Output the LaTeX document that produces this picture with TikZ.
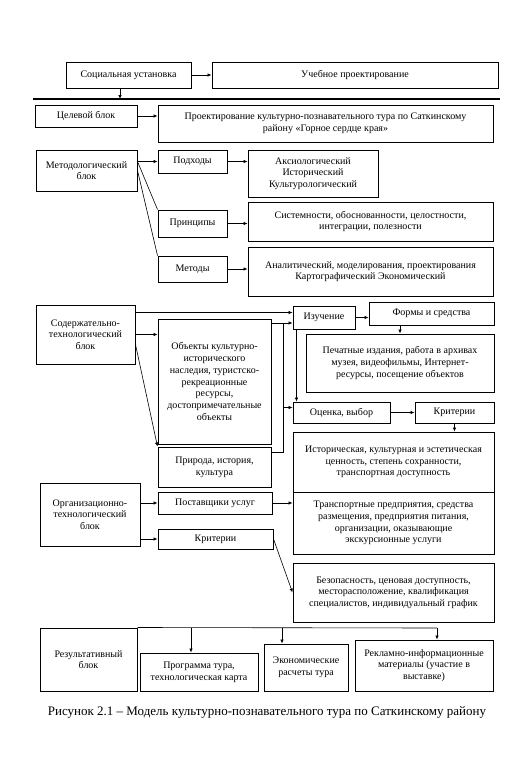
\documentclass[tikz,border=0pt]{standalone}
\usepackage{fontspec}
\setmainfont{Liberation Serif}
\usetikzlibrary{arrows.meta}

\begin{document}
\begin{tikzpicture}[x=1pt, y=-1pt]
    % Define styles
    \tikzstyle{block} = [draw, line width=1pt, align=center, inner sep=1pt, font=\fontsize{10}{11.7}\selectfont]
    \tikzstyle{edge} = [-{Latex[length=4pt,width=3.5pt]}, line width=0.6pt]
    \tikzstyle{link} = [line width=0.6pt]
    \tikzstyle{rule} = [line width=1.5pt]

    \useasboundingbox (0,0) rectangle (515,763);

    % Top part
    \node[block, minimum width=125pt, minimum height=26pt] (soc) at (128.5,75) {Социальная установка};
    \node[block, minimum width=286pt, minimum height=26pt] (ucheb) at (355,75) {Учебное проектирование};
    \coordinate (ruleL) at (33,99);
    \coordinate (ruleR) at (500,99);

    % Target block
    \node[block, minimum width=102pt, minimum height=22pt] (cel) at (86,116) {Целевой блок};
    \node[block, minimum width=335pt, minimum height=37pt] (proekt) at (325.5,123.5) {Проектирование культурно-познавательного тура по Саткинскому\\району «Горное сердце края»};

    % Methodological block
    \node[block, minimum width=101pt, minimum height=41pt] (metod) at (86.5,170.5) {Методологический\\блок};
    \node[block, minimum width=69pt, minimum height=23pt] (podh) at (192.5,161.5) {Подходы};
    \node[block, minimum width=130pt, minimum height=47pt] (aks) at (313,173.5) {Аксиологический\\Исторический\\Культурологический};
    \node[block, minimum width=69pt, minimum height=27pt] (princ) at (192.5,223.5) {Принципы};
    \node[block, minimum width=245pt, minimum height=39pt] (sist) at (370.5,221.5) {Системности, обоснованности, целостности,\\интеграции, полезности};
    \node[block, minimum width=69pt, minimum height=26pt] (metody) at (192.5,269) {Методы};
    \node[block, minimum width=245pt, minimum height=49pt] (anal) at (370.5,271.5) {Аналитический, моделирования, проектирования\\Картографический Экономический};

    % Content and technology block
    \node[block, minimum width=99pt, minimum height=59pt] (sod) at (85.5,334.5) {Содержательно-\\технологический\\блок};
    \node[block, minimum width=113pt, minimum height=125pt] (obj) at (214.5,381.5) {Объекты культурно-\\исторического\\наследия, туристско-\\рекреационные\\ресурсы,\\достопримечательные\\объекты};
    \node[block, minimum width=113pt, minimum height=40pt] (prir) at (214.5,467) {Природа, история,\\культура};
    \node[block, minimum width=62pt, minimum height=23pt] (izuch) at (324,317.5) {Изучение};
    \node[block, minimum width=125pt, minimum height=23pt] (formy) at (431.5,313.5) {Формы и средства};
    \node[block, minimum width=188pt, minimum height=58pt] (pech) at (400,363) {Печатные издания, работа в архивах\\музея, видеофильмы, Интернет-\\ресурсы, посещение объектов};
    \node[block, minimum width=97pt, minimum height=21pt] (ocen) at (341.5,412.5) {Оценка, выбор};
    \node[block, minimum width=79pt, minimum height=21pt] (krit1) at (454.5,412.5) {Критерии};
    \node[block, minimum width=201pt, minimum height=60pt] (ist) at (393.5,462) {Историческая, культурная и эстетическая\\ценность, степень сохранности,\\транспортная доступность};

    % Organizational and technology block
    \node[block, minimum width=201pt, minimum height=62pt] (trans) at (393.5,523) {Транспортные предприятия, средства\\размещения, предприятия питания,\\организации, оказывающие\\экскурсионные услуги};
    \node[block, minimum width=100pt, minimum height=63pt] (org) at (90,514.5) {Организационно-\\технологический\\блок};
    \node[block, minimum width=114pt, minimum height=22pt] (post) at (215,503) {Поставщики услуг};
    \node[block, minimum width=115pt, minimum height=20pt] (krit2) at (215.5,539) {Критерии};
    \node[block, minimum width=201pt, minimum height=59pt] (bez) at (393.5,592.5) {Безопасность, ценовая доступность,\\месторасположение, квалификация\\специалистов, индивидуальный график};

    % Result block
    \node[block, minimum width=97pt, minimum height=63pt] (rez) at (88.5,659.5) {Результативный\\блок};
    \node[block, minimum width=118pt, minimum height=38pt] (prog) at (199,672) {Программа тура,\\технологическая карта};
    \node[block, minimum width=84pt, minimum height=47pt] (econ) at (306,667.5) {Экономические\\расчеты тура};
    \node[block, minimum width=138pt, minimum height=51pt] (rekl) at (424,665.5) {Рекламно-информационные\\материалы (участие в\\выставке)};

    % Caption
    \node[font=\fontsize{13}{15}\selectfont] (cap) at (267,712) {Рисунок 2.1 – Модель культурно-познавательного тура по Саткинскому району};

    % Helper points
    \path ([yshift=5pt]izuch.west) coordinate (izA);
    \path ([yshift=-5.5pt]izuch.west) coordinate (izB);
    \path ([xshift=4pt]izuch.south west) coordinate (izC);
    \path ([yshift=5pt]ocen.west) coordinate (ocA);
    \path ([yshift=15pt]prir.east) coordinate (prA);
    \coordinate (bus) at (283,0);
    \coordinate (dProg) at (191,628);
    \coordinate (dEcon) at (282,628);
    \coordinate (dRekl) at (437,628);

    % Top connectors
    \draw[edge] (soc) -- (ucheb);
    \draw[rule] (ruleL) -- (ruleR);
    \draw[edge] ([xshift=-8.5pt]soc.south) -- (ruleL -| 120,0);
    \draw[edge] (cel.east) -- (cel.east -| proekt.west);

    % Methodological connectors
    \draw[edge] (metod.east |- podh) -- (podh);
    \draw[link] (metod.east |- podh) -- (princ.north west);
    \draw[link] (metod.east) -- (metody.north west);
    \draw[edge] (podh) -- (podh -| aks.west);
    \draw[edge] (princ) -- (princ -| sist.west);
    \draw[edge] (metody) -- (metody -| anal.west);

    % Content connectors
    \draw[edge] (izA -| sod.east) -- (izA);
    \draw[edge] (sod.east) -- (sod.east -| obj.west);
    \draw[edge] ([yshift=-10pt]sod.east) -- (prir.north west);
    \draw[edge] (izB -| obj.east) -- (izB);
    \draw[link] (prA) -| (bus |- izB);
    \draw[edge] (bus |- ocA) -- (ocA);
    \draw[edge] (izuch.east) -- (izuch.east -| formy.west);
    \draw[edge] (formy.south -| pech.north) -- (pech.north);
    \draw[edge] (izC) -- (izC |- ocen.north);
    \draw[edge] (ocen) -- (krit1);
    \draw[edge] (krit1.south) -- (krit1.south |- ist.north);

    % Organizational connectors
    \draw[edge] (org.east |- post) -- (post);
    \draw[edge] (org.east |- krit2) -- (krit2);
    \draw[edge] (post) -- (post -| trans.west);
    \draw[edge] (krit2.east) -- (bez.west);

    % Result connectors
    \draw[link] (rez.north east) -- (dRekl);
    \draw[edge] (dProg) -- (dProg |- prog.north);
    \draw[edge] (dEcon) -- (dEcon |- econ.north);
    \draw[edge] (dRekl) -- (dRekl |- rekl.north);
\end{tikzpicture}
\end{document}
